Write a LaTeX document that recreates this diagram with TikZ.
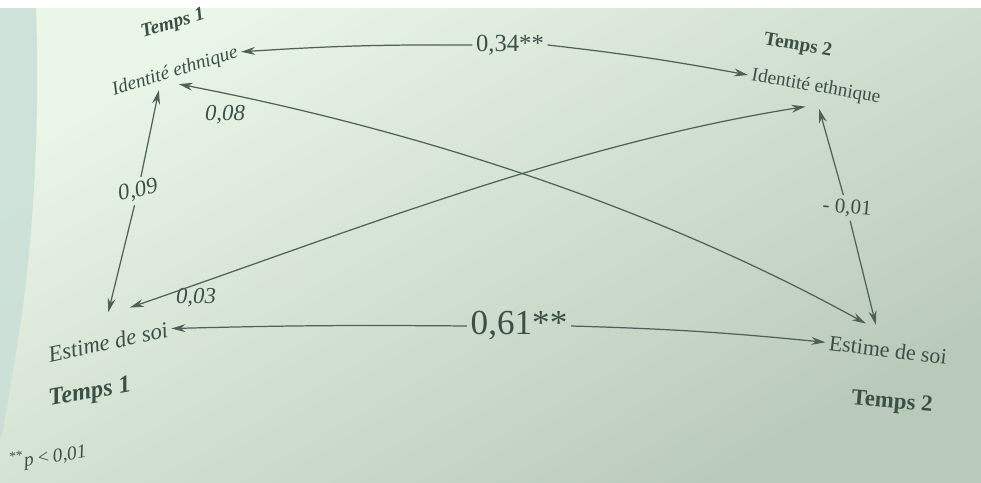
\documentclass[tikz,border=0pt]{standalone}
\usepackage{fontspec}
\setmainfont{Liberation Serif}
\usetikzlibrary{arrows.meta,calc}
\definecolor{ink}{RGB}{58,80,70}
\definecolor{bgA}{RGB}{234,246,232}
\definecolor{bgB}{RGB}{186,202,186}
\definecolor{edge}{RGB}{200,222,214}
\newcommand\myfs[1]{\fontsize{#1}{#1}\selectfont}
\begin{document}
\begin{tikzpicture}[x=0.02cm,y=-0.02cm,
  lbl/.style={text=ink, inner sep=2pt},
  arr/.style={draw=ink!90, line width=0.7pt, -{Stealth[length=8pt,width=4.5pt]}},
  darr/.style={draw=ink!90, line width=0.7pt, {Stealth[length=8pt,width=4.5pt]}-{Stealth[length=8pt,width=4.5pt]}}]
% background (photographed page)
\shade[top color=bgA, bottom color=bgB, shading angle=30] (0,0) rectangle (981,483);
\fill[edge, opacity=0.8] (0,8) -- (36,8) .. controls (40,120) and (34,240) .. (18,340) -- (3,430) -- (0,440) -- cycle;
\fill[white!96!bgA] (0,0) rectangle (981,8);
\useasboundingbox (0,0) rectangle (981,483);

% Temps 1 (left, italic)
\node[lbl,inner sep=0pt,rotate=16,font={\myfs{11}\bfseries\itshape}] (t1a) at (173,24) {Temps 1};
\node[lbl,rotate=17,font={\myfs{11}\itshape}] (ie1) at (175,72) {Identité ethnique};
\node[lbl,rotate=12,outer ysep=10pt,font={\myfs{13}\itshape}] (es1) at (108,342) {Estime de soi};
\node[lbl,rotate=10,font={\myfs{14}\bfseries\itshape}] (t1b) at (90,393) {Temps 1};
\node[lbl,rotate=8,font={\myfs{11}\itshape}] (pn) at (48,457) {\textsuperscript{**}p\,<\,0,01};

% Temps 2 (right, upright)
\node[lbl,rotate=-10,font={\myfs{11}\bfseries}] (t2a) at (798,46) {Temps 2};
\node[lbl,rotate=-10,outer ysep=5pt,font={\myfs{11}}] (ie2) at (816,87) {Identité ethnique};
\node[lbl,rotate=-7,outer ysep=7pt,font={\myfs{12.5}}] (es2) at (888,350) {Estime de soi};
\node[lbl,rotate=-5,font={\myfs{13}\bfseries}] (t2b) at (892,403) {Temps 2};

% coefficient labels
\node[lbl,font={\myfs{14}}] (l34) at (510,45) {0,34**};
\node[lbl,font={\myfs{20}}] (l61) at (519,326) {0,61**};
\node[lbl,rotate=12,font={\myfs{13}\itshape}] (l09) at (138,191) {0,09};
\node[lbl,rotate=-5,font={\myfs{12}}] (l01) at (847,208) {- 0,01};
\node[lbl,font={\myfs{13}\itshape}] (l08) at (225,115) {0,08};
\node[lbl,font={\myfs{13}\itshape}] (l03) at (196,298) {0,03};

% stability paths
\draw[arr] (l34.west) to[bend right=2] (ie1.east);
\draw[arr] (l34.east) to[bend left=2] (ie2.west);
\draw[arr] (l61.west) to[bend right=1] (es1.east);
\draw[arr] (l61.east) to[bend left=2] (es2.west);

% synchronous correlations
\draw[arr] (l09) -- ($(ie1.south west)!0.35!(ie1.south east)$);
\draw[arr] (l09) -- ($(es1.north west)!0.55!(es1.north east)$);
\draw[arr] (l01) -- ($(ie2.south west)!0.55!(ie2.south east)$);
\draw[arr] (l01) -- ($(es2.north west)!0.38!(es2.north east)$);

% cross-lagged paths
\draw[darr] (ie1.south) .. controls +(238,46) and +(-212,-117) .. ($(es2.north west)!0.3!(es2.north east)$);
\draw[darr] ($(es1.north west)!0.72!(es1.north east)$) .. controls +(223,-77) and +(-233,37) .. ($(ie2.south west)!0.45!(ie2.south east)$);
\end{tikzpicture}
\end{document}
